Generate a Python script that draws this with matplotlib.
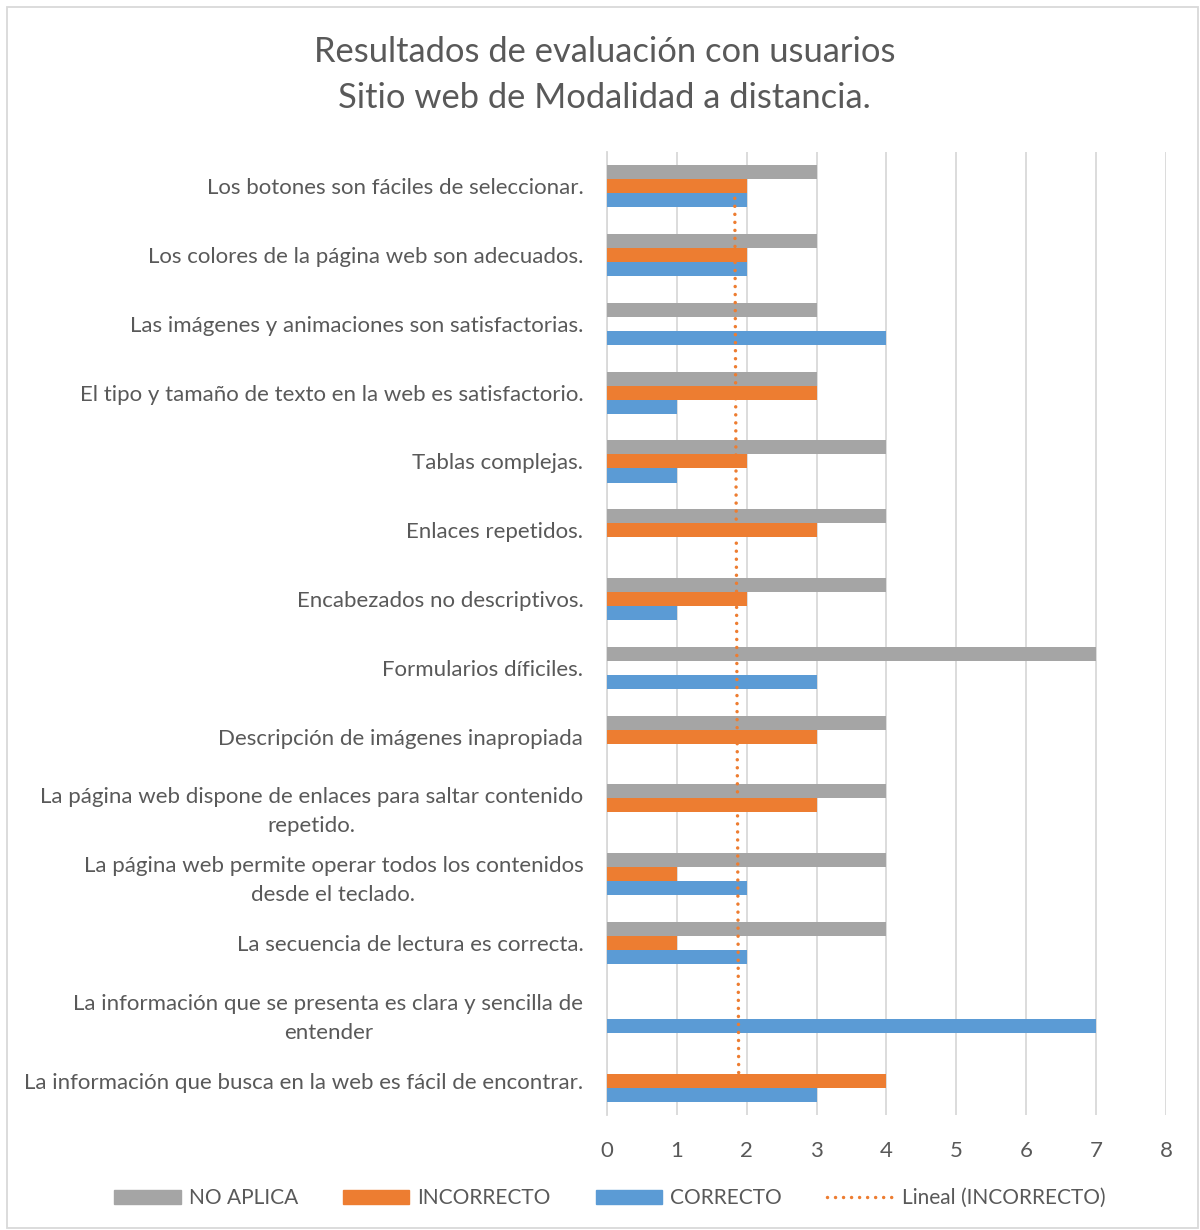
import numpy as np
import matplotlib
matplotlib.use("Agg")
import matplotlib.pyplot as plt
from matplotlib.patches import Patch
from matplotlib.lines import Line2D

# categories listed top to bottom as in the chart
categorias = [
    "Los botones son fáciles de seleccionar.",
    "Los colores de la página web son adecuados.",
    "Las imágenes y animaciones son satisfactorias.",
    "El tipo y tamaño de texto en la web es satisfactorio.",
    "Tablas complejas.",
    "Enlaces repetidos.",
    "Encabezados no descriptivos.",
    "Formularios díficiles.",
    "Descripción de imágenes inapropiada",
    "La página web dispone de enlaces para saltar contenido\nrepetido.",
    "La página web permite operar todos los contenidos\ndesde el teclado.",
    "La secuencia de lectura es correcta.",
    "La información que se presenta es clara y sencilla de\nentender",
    "La información que busca en la web es fácil de encontrar.",
]
no_aplica = [3, 3, 3, 3, 4, 4, 4, 7, 4, 4, 4, 4, 0, 0]
incorrecto = [2, 2, 0, 3, 2, 3, 2, 0, 3, 3, 1, 1, 0, 4]
correcto = [2, 2, 4, 1, 1, 0, 1, 3, 0, 0, 2, 2, 7, 3]

gris = "#A5A5A5"
naranja = "#ED7D31"
azul = "#5B9BD5"
texto = "#595959"
puntos = (0, (0.01, 2.3))

plt.rcParams["font.family"] = ["Lato", "DejaVu Sans"]

fig = plt.figure(figsize=(12, 12.3), dpi=100)
ax = fig.add_axes([0.5058, 0.0935, 0.4658, 0.783])

n = len(categorias)
ypos = np.arange(n)[::-1]
h = 0.204

ax.barh(ypos + h, no_aplica, height=h, color=gris, zorder=3)
ax.barh(ypos, incorrecto, height=h, color=naranja, zorder=3)
ax.barh(ypos - h, correcto, height=h, color=azul, zorder=3)

# linear trend of INCORRECTO (category index as x, like Excel)
coef = np.polyfit(ypos, incorrecto, 1)
yy = np.array([ypos.min(), ypos.max()])
ax.plot(np.polyval(coef, yy), yy, color=naranja, linestyle=puntos,
        linewidth=2.5, dash_capstyle="round", zorder=4)

ax.set_xlim(0, 8)
ax.set_ylim(-0.5, n - 0.5)
ax.set_xticks(range(9))
ax.set_yticks(ypos)
ax.set_yticklabels(categorias, linespacing=1.55)
for lab in ax.get_yticklabels():
    lab.set_multialignment("center")
ax.tick_params(axis="y", length=0, pad=17, labelsize=16, labelcolor=texto)
ax.tick_params(axis="x", length=0, pad=19, labelsize=16, labelcolor=texto)
ax.grid(axis="x", color="#D9D9D9", linewidth=1.3, zorder=0)
for s in ["top", "right", "bottom"]:
    ax.spines[s].set_visible(False)
ax.spines["left"].set_color("#D9D9D9")
ax.spines["left"].set_linewidth(1.3)

fig.text(0.504, 0.958, "Resultados de evaluación con usuarios", ha="center",
         va="center", fontsize=24.8, color=texto)
fig.text(0.504, 0.920, "Sitio web de Modalidad a distancia.", ha="center",
         va="center", fontsize=24.8, color=texto)

handles = [
    Patch(color=gris, label="NO APLICA"),
    Patch(color=naranja, label="INCORRECTO"),
    Patch(color=azul, label="CORRECTO"),
    Line2D([], [], color=naranja, linestyle=puntos, linewidth=2.5,
           dash_capstyle="round", label="Lineal (INCORRECTO)"),
]
leg = fig.legend(handles=handles, loc="center", bbox_to_anchor=(0.508, 0.026),
                 ncol=4, frameon=False, fontsize=15, handlelength=3.2,
                 handleheight=0.65, handletextpad=0.38, columnspacing=2.16)
for t in leg.get_texts():
    t.set_color(texto)

# chart border
fig.add_artist(plt.Rectangle((0.006, 0.002), 0.992, 0.992, transform=fig.transFigure,
                             fill=False, edgecolor="#D9D9D9", linewidth=1.3))

fig.savefig("out.png", dpi=100, facecolor="white")
